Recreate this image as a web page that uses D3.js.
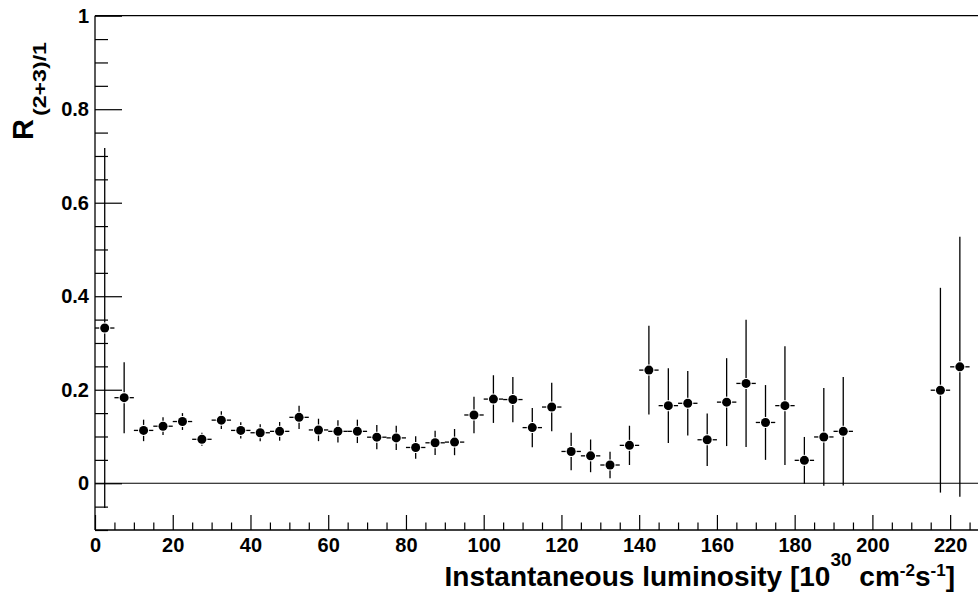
<!DOCTYPE html>
<html>
<head>
<meta charset="utf-8">
<script src="https://cdn.jsdelivr.net/npm/d3@7"></script>
<style>
  html, body { margin: 0; padding: 0; background: #fff; }
  svg { display: block; }
  text { font-family: "Liberation Sans", Arial, Helvetica, sans-serif; font-weight: bold; fill: #000; }
</style>
</head>
<body>
<script>
// ---- data ----
const lumi = [2.5, 7.5, 12.5, 17.5, 22.5, 27.5, 32.5, 37.5, 42.5, 47.5,
              52.5, 57.5, 62.5, 67.5, 72.5, 77.5, 82.5, 87.5, 92.5, 97.5,
              102.5, 107.5, 112.5, 117.5, 122.5, 127.5, 132.5, 137.5, 142.5, 147.5,
              152.5, 157.5, 162.5, 167.5, 172.5, 177.5, 182.5, 187.5, 192.5, 217.5, 222.5];
const ratio = [0.332, 0.183, 0.113, 0.122, 0.132, 0.094, 0.135, 0.113, 0.108, 0.111,
               0.141, 0.114, 0.111, 0.111, 0.0985, 0.097, 0.0765, 0.0865, 0.088, 0.146,
               0.180, 0.179, 0.119, 0.163, 0.068, 0.0586, 0.039, 0.081, 0.242, 0.166,
               0.171, 0.093, 0.1735, 0.2135, 0.130, 0.166, 0.049, 0.099, 0.111, 0.199, 0.249];
const ratioErr = [0.385, 0.076, 0.023, 0.019, 0.018, 0.014, 0.019, 0.0175, 0.018, 0.020,
                  0.025, 0.024, 0.024, 0.025, 0.026, 0.026, 0.024, 0.026, 0.028, 0.039,
                  0.051, 0.0485, 0.042, 0.052, 0.040, 0.035, 0.0285, 0.042, 0.095, 0.080,
                  0.069, 0.056, 0.094, 0.136, 0.080, 0.127, 0.050, 0.1045, 0.116, 0.219, 0.278];
const binHalfWidth = 2.5;
const xMajorTicks = [0, 20, 40, 60, 80, 100, 120, 140, 160, 180, 200, 220];
const xTickLabels = ["0", "20", "40", "60", "80", "100", "120", "140", "160", "180", "200", "220"];
const yMajorTicks = [0, 0.2, 0.4, 0.6, 0.8, 1];
const yTickLabels = ["0", "0.2", "0.4", "0.6", "0.8", "1"];
const xDomain = [0, 230];
const yDomain = [-0.1, 1];

// ---- layout ----
const W = 978, H = 595;
const plotLeft = 95, plotTop = 15.7, plotBottom = 530;
const pxPerUnit = 3.887;

const svg = d3.select("body").append("svg").attr("width", W).attr("height", H);

const x = d3.scaleLinear().domain(xDomain).range([plotLeft, plotLeft + (xDomain[1] - xDomain[0]) * pxPerUnit]);
const y = d3.scaleLinear().domain(yDomain).range([plotBottom, plotTop]);

const xMinor = d3.range(xDomain[0], xDomain[1] + 0.001, 5).filter(v => xMajorTicks.indexOf(v) < 0);
const yMinor = d3.range(-0.1, 1.0001, 0.05).map(v => +v.toFixed(2)).filter(v => !yMajorTicks.some(m => Math.abs(m - v) < 1e-6));

// frame
const frame = svg.append("g").attr("stroke", "#000").attr("stroke-width", 1.3).attr("fill", "none");
frame.append("line").attr("x1", plotLeft).attr("x2", plotLeft).attr("y1", plotTop).attr("y2", plotBottom);
frame.append("line").attr("x1", plotLeft).attr("x2", x(xDomain[1])).attr("y1", plotTop).attr("y2", plotTop);
frame.append("line").attr("x1", plotLeft).attr("x2", x(xDomain[1])).attr("y1", plotBottom).attr("y2", plotBottom);
frame.append("line").attr("x1", x(xDomain[1])).attr("x2", x(xDomain[1])).attr("y1", plotTop).attr("y2", plotBottom);

// zero line
svg.append("line").attr("x1", plotLeft).attr("x2", x(xDomain[1])).attr("y1", y(0)).attr("y2", y(0))
  .attr("stroke", "#000").attr("stroke-width", 1.1);

function styleAxis(g) {
  g.select(".domain").remove();
  g.selectAll(".tick line").attr("stroke", "#000").attr("stroke-width", 1.2);
}

// y ticks (pointing inwards)
svg.append("g").attr("transform", `translate(${plotLeft},0)`)
  .call(d3.axisRight(y).tickValues(yMajorTicks).tickSize(27).tickFormat(""))
  .call(styleAxis);
svg.append("g").attr("transform", `translate(${plotLeft},0)`)
  .call(d3.axisRight(y).tickValues(yMinor).tickSize(13).tickFormat(""))
  .call(styleAxis);
// y labels
svg.append("g").attr("transform", `translate(${plotLeft},0)`)
  .call(d3.axisLeft(y).tickValues(yMajorTicks).tickSize(0).tickPadding(6)
        .tickFormat((d, i) => yTickLabels[i]))
  .call(g => { g.select(".domain").remove(); g.selectAll("text").attr("font-size", 20).attr("font-family", null).attr("fill", "#000"); });

// x ticks (pointing up)
svg.append("g").attr("transform", `translate(0,${plotBottom})`)
  .call(d3.axisTop(x).tickValues(xMajorTicks).tickSize(15).tickFormat(""))
  .call(styleAxis);
svg.append("g").attr("transform", `translate(0,${plotBottom})`)
  .call(d3.axisTop(x).tickValues(xMinor).tickSize(7.5).tickFormat(""))
  .call(styleAxis);
// x labels
svg.append("g").attr("transform", `translate(0,${plotBottom})`)
  .call(d3.axisBottom(x).tickValues(xMajorTicks).tickSize(0).tickPadding(8)
        .tickFormat((d, i) => xTickLabels[i]))
  .call(g => { g.select(".domain").remove(); g.selectAll("text").attr("font-size", 20).attr("font-family", null).attr("fill", "#000"); });

// data points with error bars
const pts = lumi.map((l, i) => ({ l, v: ratio[i], e: ratioErr[i] }));
const gap = 5.5, r = 4.5;
const eb = svg.append("g").attr("stroke", "#000").attr("stroke-width", 1.3);
pts.forEach(p => {
  const cx = x(p.l), cy = y(p.v);
  const yTop = y(p.v + p.e), yBot = y(p.v - p.e);
  if (cy - yTop > gap) eb.append("line").attr("x1", cx).attr("x2", cx).attr("y1", yTop).attr("y2", cy - gap);
  if (yBot - cy > gap) eb.append("line").attr("x1", cx).attr("x2", cx).attr("y1", cy + gap).attr("y2", yBot);
  const xl = x(p.l - binHalfWidth), xr = x(p.l + binHalfWidth);
  eb.append("line").attr("x1", xl).attr("x2", cx - gap).attr("y1", cy).attr("y2", cy);
  eb.append("line").attr("x1", cx + gap).attr("x2", xr).attr("y1", cy).attr("y2", cy);
});
svg.append("g").selectAll("circle").data(pts).join("circle")
  .attr("cx", d => x(d.l)).attr("cy", d => y(d.v)).attr("r", r).attr("fill", "#000");

// x title
const xt = svg.append("text").attr("x", 955).attr("y", 586).attr("text-anchor", "end").attr("font-size", 28);
xt.append("tspan").text("Instantaneous luminosity [10");
xt.append("tspan").attr("font-size", 19).attr("dy", -20).text("30");
xt.append("tspan").attr("dy", 20).text(" cm");
xt.append("tspan").attr("font-size", 17).attr("dy", -10).text("-2");
xt.append("tspan").attr("dy", 10).text("s");
xt.append("tspan").attr("font-size", 17).attr("dy", -10).text("-1");
xt.append("tspan").attr("dy", 10).text("]");

// y title
svg.append("text").attr("transform", "translate(33,140) rotate(-90)").attr("font-size", 29).text("R");
svg.append("text").attr("transform", "translate(46,116) rotate(-90)").attr("font-size", 19)
  .attr("textLength", 74).attr("lengthAdjust", "spacingAndGlyphs").text("(2+3)/1");
</script>
</body>
</html>
